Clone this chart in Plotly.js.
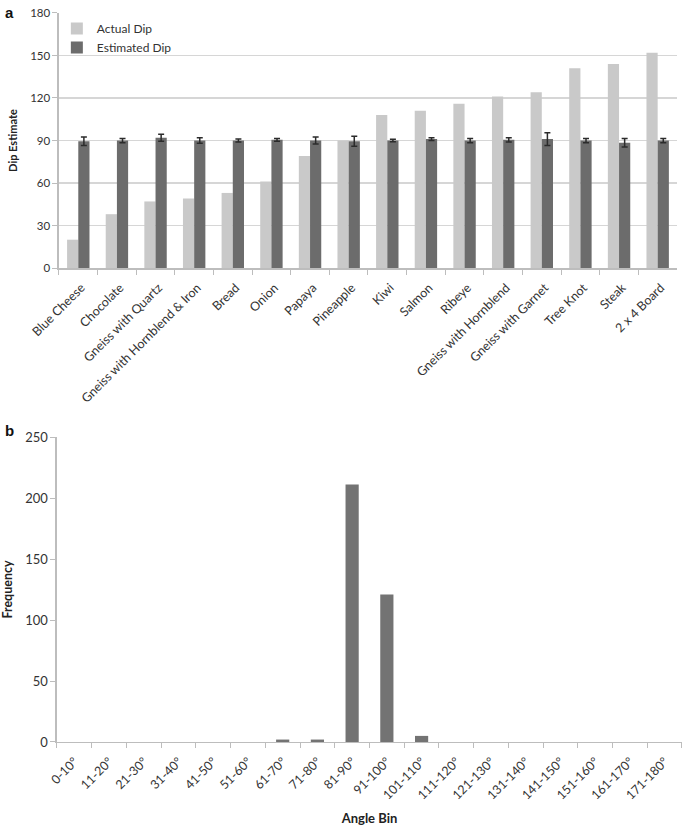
<!DOCTYPE html>
<html><head><meta charset="utf-8">
<script src="https://cdn.plot.ly/plotly-3.0.1.min.js"></script>
<style>html,body{margin:0;padding:0;background:#fff}#chart{width:685px;height:826px}</style>
</head><body><div id="chart"></div>
<script>
const samples = ["Blue Cheese","Chocolate","Gneiss with Quartz","Gneiss with Hornblend & Iron","Bread","Onion","Papaya","Pineapple","Kiwi","Salmon","Ribeye","Gneiss with Hornblend","Gneiss with Garnet","Tree Knot","Steak","2 x 4 Board"];
const actualDip = [20,38,47,49,53,61,79,90,108,111,116,121,124,141,144,152];
const estimatedDip = [89.5,90,92,90,90,90.5,90,89.5,90,91,90,90.5,91,90,88.5,90];
const estimatedErr = [3,1.5,2.5,2,1,1,2.5,3.5,0.8,1,1.5,1.5,4.5,1.5,3,1.5];
const angleBins = ["0-10°","11-20°","21-30°","31-40°","41-50°","51-60°","61-70°","71-80°","81-90°","91-100°","101-110°","111-120°","121-130°","131-140°","141-150°","151-160°","161-170°","171-180°"];
const frequency = [0,0,0,0,0,0,2,2,211,121,5,0,0,0,0,0,0,0];

const FONT = "Lato, 'Open Sans', sans-serif";
const data = [
  {type:'bar', name:'Actual Dip', x:samples, y:actualDip, marker:{color:'#c9c9c9'}, xaxis:'x', yaxis:'y'},
  {type:'bar', name:'Estimated Dip', x:samples, y:estimatedDip, marker:{color:'#6c6c6c'},
   error_y:{type:'data', array:estimatedErr, visible:true, color:'#2b2b2b', thickness:1.5, width:3}, xaxis:'x', yaxis:'y'},
  {type:'bar', name:'Frequency', x:angleBins, y:frequency, width:0.38, marker:{color:'#737373'}, xaxis:'x2', yaxis:'y2', showlegend:false}
];
const layout = {
  width:685, height:826, margin:{l:0,r:0,t:0,b:0},
  paper_bgcolor:'#fff', plot_bgcolor:'#fff',
  font:{family:FONT, color:'#333', size:12},
  barmode:'group', bargap:0.42, bargroupgap:0,
  showlegend:true,
  legend:{x:0.083, y:0.983, xanchor:'left', yanchor:'top', font:{size:12, color:'#333'}, bgcolor:'rgba(0,0,0,0)', tracegroupgap:4, itemwidth:30},
  xaxis:{domain:[0.0861,0.9883], anchor:'y', type:'category', showgrid:false, showline:true, linecolor:'#bdbdbd', linewidth:1.5,
    ticks:'outside', tickson:'boundaries', ticklen:5, tickcolor:'#bdbdbd', tickangle:-45, tickfont:{size:12.5, color:'#333'},
    ticklabelstandoff:6, ticklabelshift:3},
  yaxis:{domain:[0.6755,0.9843], anchor:'x', range:[0,180], dtick:30, showgrid:true, gridcolor:'#d6d6d6', gridwidth:1.5,
    showline:true, linecolor:'#bdbdbd', linewidth:1.5, ticks:'outside', ticklen:5, tickcolor:'#bdbdbd', zeroline:false,
    tickfont:{size:11.5, color:'#333'}, title:{text:'<b>Dip Estimate</b>', font:{size:11, color:'#222'}, standoff:10}},
  xaxis2:{domain:[0.0832,0.9956], anchor:'y2', type:'category', showgrid:false, showline:true, linecolor:'#bdbdbd', linewidth:1.5,
    ticks:'outside', tickson:'boundaries', ticklen:5, tickcolor:'#bdbdbd', tickangle:-45, tickfont:{size:12.5, color:'#333'},
    ticklabelstandoff:6,
    title:{text:'<b>Angle Bin</b>', font:{size:13, color:'#222'}, standoff:12}},
  yaxis2:{domain:[0.1017,0.4709], anchor:'x2', range:[0,250], dtick:50, showgrid:false,
    showline:true, linecolor:'#bdbdbd', linewidth:1.5, ticks:'outside', ticklen:5, tickcolor:'#bdbdbd', zeroline:false,
    tickfont:{size:13, color:'#333'}, title:{text:'<b>Frequency</b>', font:{size:12.5, color:'#222'}, standoff:12}},
  annotations:[
    {text:'<b>a</b>', x:0.004, y:0.998, xref:'paper', yref:'paper', xanchor:'left', yanchor:'top', showarrow:false, font:{size:15, color:'#111', family:"'Liberation Sans', Arial, sans-serif"}},
    {text:'<b>b</b>', x:0.004, y:0.492, xref:'paper', yref:'paper', xanchor:'left', yanchor:'top', showarrow:false, font:{size:15, color:'#111', family:"'Liberation Sans', Arial, sans-serif"}}
  ]
};
Plotly.newPlot('chart', data, layout, {staticPlot:true, displayModeBar:false});
</script></body></html>
